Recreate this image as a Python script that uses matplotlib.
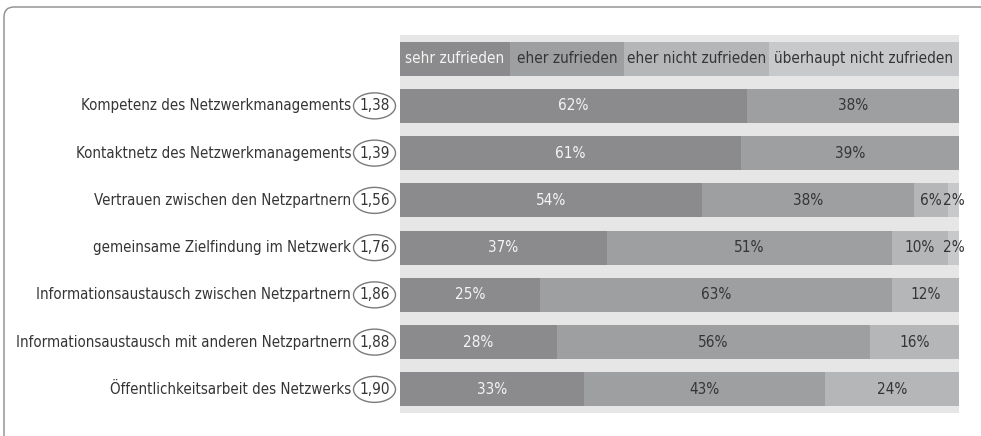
import matplotlib.pyplot as plt
from matplotlib.patches import Ellipse, FancyBboxPatch
from matplotlib.transforms import blended_transform_factory
import numpy as np

plt.rcParams['font.family'] = ['DejaVu Sans']
plt.rcParams['font.stretch'] = 'condensed'

# Data
categories = [
    'Kompetenz des Netzwerkmanagements',
    'Kontaktnetz des Netzwerkmanagements',
    'Vertrauen zwischen den Netzpartnern',
    'gemeinsame Zielfindung im Netzwerk',
    'Informationsaustausch zwischen Netzpartnern',
    'Informationsaustausch mit anderen Netzpartnern',
    'Öffentlichkeitsarbeit des Netzwerks',
]
mean_scores = ['1,38', '1,39', '1,56', '1,76', '1,86', '1,88', '1,90']
sehr_zufrieden = [62, 61, 54, 37, 25, 28, 33]
eher_zufrieden = [38, 39, 38, 51, 63, 56, 43]
eher_nicht_zufrieden = [0, 0, 6, 10, 12, 16, 24]
ueberhaupt_nicht = [0, 0, 2, 2, 0, 0, 0]
levels = ['sehr zufrieden', 'eher zufrieden', 'eher nicht zufrieden',
          'überhaupt nicht zufrieden']

# Styles / layout
colors = ['#8b8b8d', '#9e9fa1', '#b4b6b7', '#c8c9ca']
text_colors = ['#f4f4f4', '#353535', '#353535', '#353535']
legend_edges = [0, 19.7, 40.1, 66.0, 100]
bg = '#e6e6e6'
fs = 11
fs_label = 10.8

fig = plt.figure(figsize=(9.81, 4.36), dpi=100)
W, H = 981, 436

# Rounded frame (only top/left visible)
frame = FancyBboxPatch((0.04, -1.0), 12.0, 5.29, boxstyle='round,pad=0,rounding_size=0.1',
                       transform=fig.dpi_scale_trans, fc='none', ec='#8c8c8c', lw=1.0)
fig.patches.append(frame)

# Plot area
ax = fig.add_axes([400 / W, (H - 413) / H, 559 / W, 378 / H])
ax.set_facecolor(bg)
for s in ax.spines.values():
    s.set_visible(False)
ax.set_xticks([])
ax.set_yticks([])
ax.set_xlim(0, 100)
ax.set_ylim(6.5, -1.5)

y = np.arange(len(categories))
series = [sehr_zufrieden, eher_zufrieden, eher_nicht_zufrieden, ueberhaupt_nicht]
left = np.zeros(len(categories))
for vals, col, tcol in zip(series, colors, text_colors):
    vals = np.array(vals, dtype=float)
    ax.barh(y, vals, left=left, height=0.72, color=col, edgecolor='none')
    for yi, l, v in zip(y, left, vals):
        if v > 0:
            ax.text(l + v / 2, yi, f'{int(v)}%', ha='center', va='center',
                    fontsize=fs, color=tcol)
    left += vals

# Legend header row
for i, lab in enumerate(levels):
    x0, x1 = legend_edges[i], legend_edges[i + 1]
    ax.barh(-1, x1 - x0, left=x0, height=0.72, color=colors[i], edgecolor='none')
    ax.text((x0 + x1) / 2, -1, lab, ha='center', va='center', fontsize=fs,
            color=text_colors[i])

# Category labels and circled mean scores
trans = blended_transform_factory(fig.transFigure, ax.transData)
for yi, cat, score in zip(y, categories, mean_scores):
    ax.text(351 / W, yi, cat, transform=trans, ha='right', va='center',
            fontsize=fs_label, color='#353535', clip_on=False)
    ax.add_patch(Ellipse((374.5 / W, yi), 42 / W, 0.55, transform=trans,
                         fc='white', ec='#7a7a7a', lw=1.0, clip_on=False))
    ax.text(374.5 / W, yi, score, transform=trans, ha='center', va='center',
            fontsize=fs, color='#353535', clip_on=False)

fig.savefig('out.png', dpi=100)
